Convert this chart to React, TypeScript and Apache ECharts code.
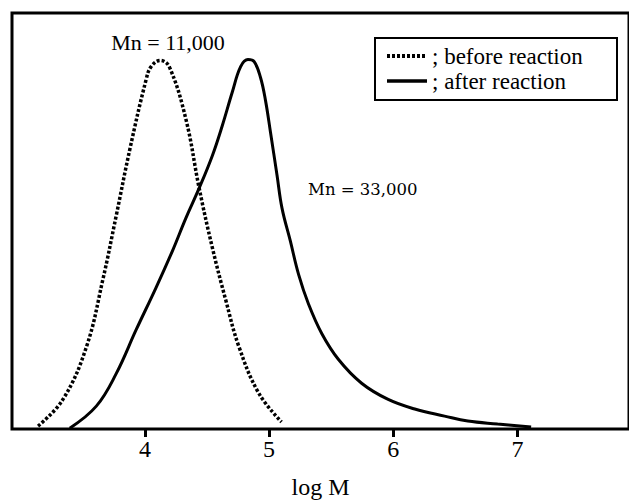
import React, { useEffect, useRef } from "react";
import * as echarts from "echarts";

// log M values and normalized intensities
const beforeX = [3.14, 3.34, 3.53, 3.66, 3.77, 3.88, 4.01, 4.05, 4.124, 4.196, 4.33, 4.437, 4.543, 4.651, 4.757, 4.917, 5.10];
const beforeY = [0.007, 0.071, 0.198, 0.357, 0.514, 0.674, 0.84, 0.871, 0.886, 0.871, 0.745, 0.579, 0.436, 0.31, 0.198, 0.086, 0.017];

const afterX = [3.395, 3.609, 3.769, 3.929, 4.09, 4.223, 4.33, 4.437, 4.543, 4.623, 4.704, 4.771, 4.83, 4.88, 4.931, 4.971, 5.011, 5.064, 5.104, 5.171, 5.238, 5.318, 5.425, 5.559, 5.745, 5.959, 6.173, 6.413, 6.6, 6.84, 7.11];
const afterY = [0.002, 0.055, 0.133, 0.238, 0.34, 0.429, 0.507, 0.579, 0.657, 0.729, 0.81, 0.871, 0.888, 0.883, 0.845, 0.79, 0.714, 0.61, 0.531, 0.452, 0.371, 0.3, 0.229, 0.167, 0.11, 0.071, 0.048, 0.031, 0.019, 0.012, 0.005];

const tickValues = [4, 5, 6, 7];
const seriesNames = ["; before reaction", "; after reaction"];
const labelBefore = "Mn = 11,000";
const labelAfter = "Mn = 33,000";
const axisTitle = "log M";

const serif = "'Liberation Serif', 'Times New Roman', Times, serif";
const serif2 = "'DejaVu Serif', serif";

export default function App() {
  const ref = useRef<HTMLDivElement>(null);
  useEffect(() => {
    document.body.style.margin = "0";
    const chart = echarts.init(ref.current!, null, { renderer: "svg" });
    const pair = (xs: number[], ys: number[]) => xs.map((x, i) => [x, ys[i]]);
    chart.setOption({
      animation: false,
      backgroundColor: "#fff",
      textStyle: { fontFamily: serif },
      grid: {
        left: 12,
        top: 13,
        width: 620,
        height: 421,
        show: true,
        borderColor: "#000",
        borderWidth: 3,
        backgroundColor: "transparent",
      },
      xAxis: {
        type: "value",
        min: 2.93,
        max: 7.898,
        axisLine: { show: false },
        splitLine: { show: false },
        axisTick: {
          show: true,
          customValues: tickValues,
          length: 8,
          inside: false,
          lineStyle: { color: "#000", width: 3 },
        },
        axisLabel: {
          customValues: tickValues,
          color: "#000",
          fontFamily: serif,
          fontSize: 24,
          margin: 8,
        },
        name: axisTitle,
        nameLocation: "middle",
        nameGap: 46,
        nameTextStyle: { color: "#000", fontFamily: serif, fontSize: 24 },
      },
      yAxis: {
        type: "value",
        min: 0,
        max: 1,
        axisLine: { show: false },
        axisTick: { show: false },
        axisLabel: { show: false },
        splitLine: { show: false },
      },
      series: [
        {
          name: seriesNames[0],
          type: "line",
          data: pair(beforeX, beforeY),
          smooth: 0.4,
          showSymbol: false,
          lineStyle: { color: "#000", width: 3.5, type: [3, 2] },
        },
        {
          name: seriesNames[1],
          type: "line",
          data: pair(afterX, afterY),
          smooth: 0.4,
          showSymbol: false,
          lineStyle: { color: "#000", width: 3 },
        },
      ],
      graphic: [
        {
          type: "rect",
          shape: { x: 375, y: 38, width: 242, height: 62 },
          style: { fill: "#fff", stroke: "#000", lineWidth: 2 },
        },
        {
          type: "line",
          shape: { x1: 387, y1: 56, x2: 427, y2: 56 },
          style: { stroke: "#000", lineWidth: 4, lineDash: [3, 2] },
        },
        {
          type: "text",
          x: 432,
          y: 56,
          style: { text: seriesNames[0], fontSize: 23, fontFamily: serif, fill: "#000", verticalAlign: "middle" },
        },
        {
          type: "line",
          shape: { x1: 387, y1: 81, x2: 427, y2: 81 },
          style: { stroke: "#000", lineWidth: 3.5 },
        },
        {
          type: "text",
          x: 432,
          y: 81,
          style: { text: seriesNames[1], fontSize: 23, fontFamily: serif, fill: "#000", verticalAlign: "middle" },
        },
        {
          type: "text",
          x: 168,
          y: 42,
          style: { text: labelBefore, fontSize: 22, fontFamily: serif, fill: "#000", align: "center", verticalAlign: "middle" },
        },
        {
          type: "text",
          x: 308,
          y: 189,
          style: { text: labelAfter, fontSize: 16.5, fontFamily: serif2, fill: "#000", verticalAlign: "middle" },
        },
      ],
    });
    return () => chart.dispose();
  }, []);
  return <div ref={ref} style={{ width: 629, height: 504 }} />;
}
